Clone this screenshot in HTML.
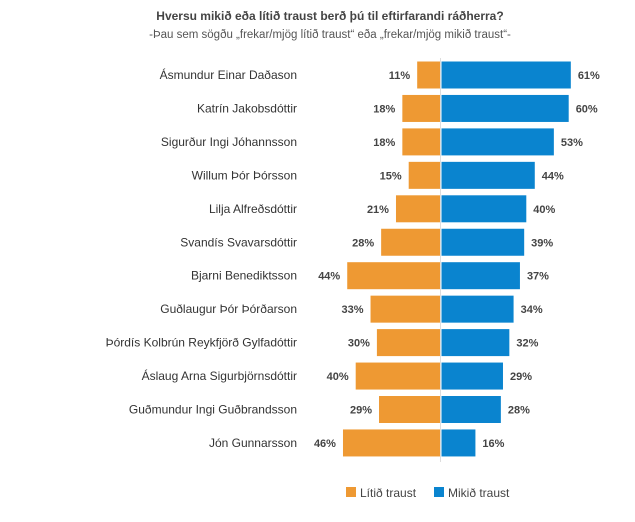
<!DOCTYPE html>
<html><head><meta charset="utf-8"><style>
body{margin:0;background:#fff;font-family:"Liberation Sans",sans-serif;}
svg text{font-family:"Liberation Sans",sans-serif;}
</style></head><body>
<svg width="635" height="517" viewBox="0 0 635 517">
<text x="330" y="20" text-anchor="middle" font-size="12" font-weight="bold" fill="#444">Hversu mikið eða lítið traust berð þú til eftirfarandi ráðherra?</text>
<text x="330" y="38" text-anchor="middle" font-size="11.5" fill="#555">-Þau sem sögðu „frekar/mjög lítið traust“ eða „frekar/mjög mikið traust“-</text>
<g id="bars"></g>
<line x1="440.5" y1="58" x2="440.5" y2="462" stroke="#ddd" stroke-width="1"/>
<g>
<rect x="346" y="487" width="10" height="10" fill="#ee9933"/>
<text x="360" y="497" font-size="12" fill="#444">Lítið traust</text>
<rect x="434" y="487" width="10" height="10" fill="#0a84cf"/>
<text x="448" y="497" font-size="12" fill="#444">Mikið traust</text>
</g>
</svg>
<script>
const names=["Ásmundur Einar Daðason","Katrín Jakobsdóttir","Sigurður Ingi Jóhannsson","Willum Þór Þórsson","Lilja Alfreðsdóttir","Svandís Svavarsdóttir","Bjarni Benediktsson","Guðlaugur Þór Þórðarson","Þórdís Kolbrún Reykfjörð Gylfadóttir","Áslaug Arna Sigurbjörnsdóttir","Guðmundur Ingi Guðbrandsson","Jón Gunnarsson"];
const litid=[11,18,18,15,21,28,44,33,30,40,29,46];
const mikid=[61,60,53,44,40,39,37,34,32,29,28,16];
const NS="http://www.w3.org/2000/svg";
const cx=440.5, k=2.12, y0=75, step=33.45, bh=27;
const xs=v=>v*k;
const ys=i=>y0+i*step;
const g=document.getElementById('bars');
function mk(tag,attrs,txt){const e=document.createElementNS(NS,tag);for(const a in attrs)e.setAttribute(a,attrs[a]);if(txt!=null)e.textContent=txt;g.appendChild(e);return e;}
names.forEach((n,i)=>{
 const y=ys(i);
 const t=mk('text',{x:297,y:y+4,'text-anchor':'end','font-size':'12',fill:'#333'},n);
 
 
 const l=mk('rect',{x:cx-xs(litid[i]),y:y-bh/2,width:xs(litid[i]),height:bh,fill:'#ee9933'});
 
 
 const m=mk('rect',{x:cx+1,y:y-bh/2,width:xs(mikid[i]),height:bh,fill:'#0a84cf'});
 
 
 const lv=mk('text',{x:cx-xs(litid[i])-7,y:y+4,'text-anchor':'end','font-size':'11','font-weight':'bold',fill:'#444'},litid[i]+'%');
 
 
 const mv=mk('text',{x:cx+1+xs(mikid[i])+7,y:y+4,'font-size':'11','font-weight':'bold',fill:'#444'},mikid[i]+'%');
 
 
});
</script>
</body></html>
